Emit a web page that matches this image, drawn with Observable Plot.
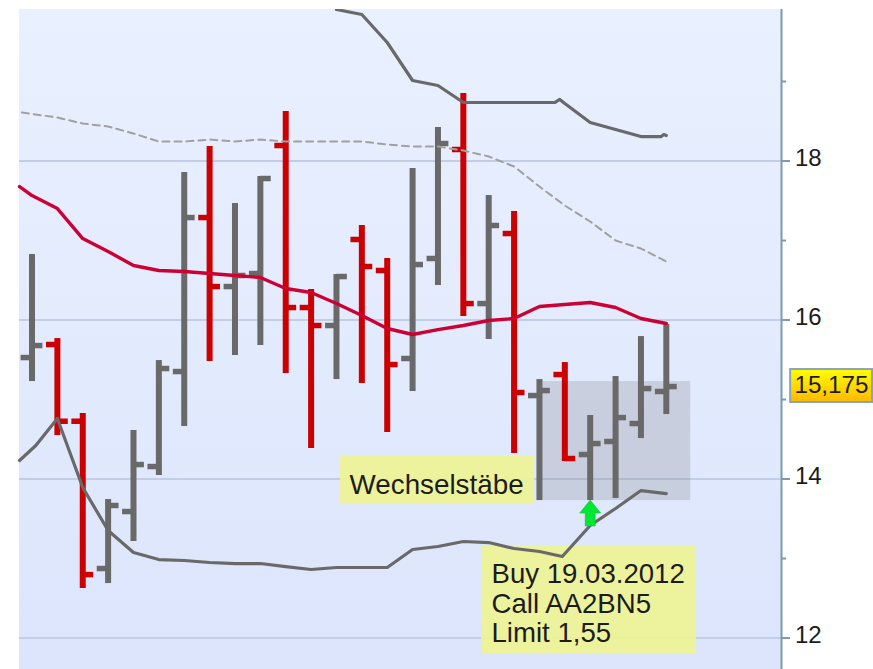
<!DOCTYPE html>
<html>
<head>
<meta charset="utf-8">
<script src="https://cdn.jsdelivr.net/npm/d3@7"></script>
<script src="https://cdn.jsdelivr.net/npm/@observablehq/plot@0.6"></script>
<style>html,body{margin:0;padding:0;background:#fff}svg{display:block}</style>
</head>
<body>
<div id="chart"></div>
<script>
const high = [16.824,15.767,14.824,13.742,14.610,15.490,17.855,18.182,17.465,17.805,18.623,16.384,16.572,17.189,16.774,17.906,18.421,18.849,17.566,17.365,15.251,15.465,14.799,15.289,15.792,15.943];
const low = [15.226,14.547,12.622,12.685,13.214,14.044,14.660,15.478,15.553,15.679,15.327,14.384,15.251,15.201,14.585,15.101,16.434,16.044,15.755,14.321,13.729,14.220,13.729,13.755,14.509,14.811];
const open = [15.528,15.692,14.727,12.874,13.591,14.157,15.352,17.289,16.421,16.585,18.195,16.157,15.931,17.013,16.623,15.516,16.774,18.145,16.207,17.088,15.050,15.314,14.308,14.472,14.698,15.101];
const close = [15.679,14.727,12.798,13.667,14.182,15.390,17.289,16.421,16.560,17.780,16.157,15.931,16.547,16.673,15.440,16.698,18.220,16.207,17.189,15.088,15.113,14.258,14.446,14.773,15.138,15.163];

const maX = [-0.49,0,1,2,3,4,5,6,7,8,9,10,11,12,13,14,15,16,17,18,19,20,21,22,23,24,25];
const maY = [17.679,17.566,17.402,17.025,16.862,16.686,16.623,16.610,16.585,16.560,16.535,16.396,16.346,16.207,16.057,15.893,15.818,15.880,15.931,15.994,16.019,16.170,16.195,16.220,16.157,16.019,15.956];

const lowerX = [-0.49,0.15,1,2,3,4,5,6,7,8,9,10,11,12,13,14,15,16,17,18,19,20,20.9,22,23,24,25];
const lowerY = [14.233,14.421,14.761,13.893,13.352,13.075,12.987,12.975,12.950,12.937,12.937,12.899,12.862,12.887,12.887,12.887,13.113,13.151,13.214,13.201,13.126,13.088,13.025,13.415,13.629,13.855,13.817];

const upperX = [12,13,14,15,16,17,20.6,20.8,21,22,23,24,24.8,24.9,25];
const upperY = [19.906,19.843,19.491,19.013,18.950,18.736,18.736,18.774,18.723,18.484,18.396,18.308,18.308,18.333,18.321];

const dashX = [-0.4,1,2,3,4,5,6,7,8,9,10,11,12,13,14,15,16,17,18,19,20,21,22,23,24,25];
const dashY = [18.610,18.547,18.472,18.434,18.346,18.245,18.245,18.270,18.245,18.270,18.245,18.245,18.245,18.245,18.208,18.182,18.182,18.132,18.057,17.931,17.679,17.440,17.239,17.000,16.899,16.736];

const majorTicks = [12,14,16,18];
const minorTicks = [13,15,17,19];
const buyLines = ["Buy 19.03.2012","Call AA2BN5","Limit 1,55"];
const buyLineY = [12.798,12.421,12.056];
const lastPrice = 15.175;

const xMin = -0.493, xMax = 29.54, yMin = 11.604, yMax = 19.906;
const RED = "#cc0000", GRAY = "#696969", AXIS = "#7d9aae", INK = "#1c1c1c";
const FONT = "'Liberation Sans', Arial, sans-serif";

const bars = high.map((h,i)=>({i, high:h, low:low[i], open:open[i], close:close[i], color: close[i] < open[i] ? RED : GRAY}));
const pts = (xs,ys)=>xs.map((x,k)=>({x,y:ys[k]}));
const NS = "http://www.w3.org/2000/svg";

function defsMark(){
  const d = document.createElementNS(NS,"defs");
  d.innerHTML = `<linearGradient id="bg" x1="0" y1="0" x2="0" y2="1"><stop offset="0" stop-color="#e9f0ff"/><stop offset="1" stop-color="#dce5fc"/></linearGradient>
  <linearGradient id="gold" x1="0" y1="0" x2="0" y2="1"><stop offset="0" stop-color="#ffff00"/><stop offset="1" stop-color="#ffb800"/></linearGradient>`;
  return d;
}
const arrowSymbol = {draw(c){
  c.moveTo(0,-13); c.lineTo(10.5,0); c.lineTo(5,0); c.lineTo(5,13); c.lineTo(-5,13); c.lineTo(-5,0); c.lineTo(-10.5,0); c.closePath();
}};
const text = (data,o)=>Plot.text(data,{fontFamily:FONT,textAnchor:"start",fill:INK,...o});

const plot = Plot.plot({
  width:873, height:669,
  marginLeft:19, marginRight:92, marginTop:9, marginBottom:0,
  style:{background:"#fff",fontFamily:FONT},
  x:{domain:[xMin,xMax],axis:null},
  y:{domain:[yMin,yMax],axis:null},
  marks:[
    defsMark,
    Plot.rect([0],{x1:xMin,x2:xMax,y1:yMin,y2:yMax,fill:"url(#bg)"}),
    Plot.ruleY(majorTicks,{x1:xMin,x2:xMax,stroke:"#c2cde8",strokeWidth:2}),
    Plot.rect([0],{x1:20,x2:25.96,y1:13.729,y2:15.226,fill:"#808080",fillOpacity:0.25}),
    Plot.ruleX(bars,{x:"i",y1:"low",y2:"high",stroke:"color",strokeWidth:6}),
    Plot.ruleY(bars,{x1:d=>d.i-0.43,x2:"i",y:"open",stroke:"color",strokeWidth:5.5}),
    Plot.ruleY(bars,{x1:"i",x2:d=>d.i+0.43,y:"close",stroke:"color",strokeWidth:5.5}),
    Plot.rect([0],{x1:12.16,x2:19.81,y1:13.679,y2:14.283,fill:"#edf297",fillOpacity:0.95}),
    Plot.rect([0],{x1:17.72,x2:26.19,y1:11.805,y2:13.151,fill:"#edf297",fillOpacity:0.95}),
    Plot.line(pts(dashX,dashY),{x:"x",y:"y",stroke:"#a0a0a0",strokeWidth:2,strokeDasharray:"7 5",clip:true}),
    Plot.line(pts(maX,maY),{x:"x",y:"y",stroke:"#cc0033",strokeWidth:3.4}),
    Plot.line(pts(lowerX,lowerY),{x:"x",y:"y",stroke:GRAY,strokeWidth:3.2}),
    Plot.line(pts(upperX,upperY),{x:"x",y:"y",stroke:GRAY,strokeWidth:3.2,clip:true}),
    Plot.dot([0],{x:22,y:13.572,symbol:arrowSymbol,r:10,fill:"#00e834",stroke:"#20b040",strokeWidth:0.5}),
    text(["Wechselstäbe"],{x:12.515,y:13.918,fontSize:27.8}),
    text(buyLines,{x:18.11,y:(d,k)=>buyLineY[k],fontSize:27.6}),
    Plot.ruleX([xMax],{y1:yMin,y2:yMax,stroke:AXIS,strokeWidth:2}),
    Plot.ruleY(minorTicks,{x1:xMax,x2:xMax+0.2,stroke:AXIS,strokeWidth:2}),
    Plot.ruleY(majorTicks,{x1:xMax,x2:xMax+0.355,stroke:AXIS,strokeWidth:2}),
    text(majorTicks,{x:xMax,y:d=>d,dx:13.5,dy:-2.5,fontSize:24}),
    Plot.rect([0],{x1:29.9,x2:33.13,y1:14.962,y2:15.377,fill:"url(#gold)",stroke:"#8aa4b8",strokeWidth:2}),
    text([lastPrice],{x:30.05,y:lastPrice,text:d=>d3.format(".3f")(d).replace(".",","),fontSize:24.2})
  ]
});
document.getElementById("chart").appendChild(plot);
</script>
</body>
</html>
